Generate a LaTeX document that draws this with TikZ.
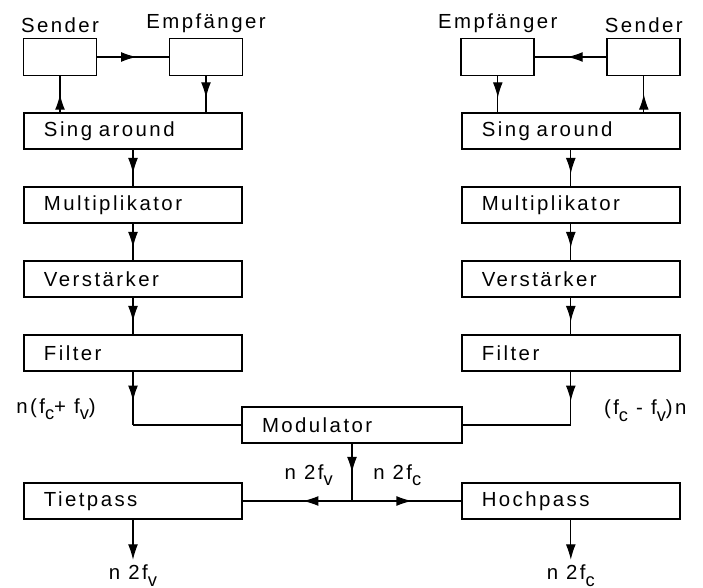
\documentclass[tikz,border=0pt]{standalone}
\usepackage{fontspec}
\setmainfont{Liberation Sans}[LetterSpace=12]
\usetikzlibrary{positioning}
\usetikzlibrary{shapes,arrows.meta,decorations.markings}
\newcommand{\idx}[1]{\raisebox{-4.5pt}{\fontsize{13}{13}\selectfont #1}}
\tikzstyle{block} = [rectangle, draw, line width=1.2pt, on grid,
    minimum width=5.45cm, minimum height=0.9cm, text width=4.45cm,
    inner xsep=0.5cm, align=left]
\tikzstyle{small} = [rectangle, draw, line width=1.2pt, on grid,
    minimum width=1.825cm, minimum height=0.925cm]
\tikzstyle{line} = [draw, line width=0.8pt]
\tikzset{midarrow/.style={postaction={decorate}, decoration={markings,
    mark=at position #1 with {\arrow{Latex[length=11pt,width=7pt]}}}},
    midarrow/.default=0.55}

\begin{document}
\begin{tikzpicture}[node distance=1.85cm, font=\fontsize{14.5}{17}\selectfont]
    \useasboundingbox (0,0) rectangle (17.575,-14.7);
    % Place nodes, left chain
    \node [block] (singL) at (3.325,-3.275) {Sing around};
    \node [block, below=of singL] (multL) {Multiplikator};
    \node [block, below=of multL] (verstL) {Verstärker};
    \node [block, below=of verstL] (filterL) {Filter};
    \node [small, above left=1.85cm and 1.825cm of singL, label=above:Sender] (sendL) {};
    \node [small, above right=1.85cm and 1.825cm of singL, label=above:Empfänger] (empfL) {};
    % right chain
    \node [block] (singR) at (14.27,-3.275) {Sing around};
    \node [block, below=of singR] (multR) {Multiplikator};
    \node [block, below=of multR] (verstR) {Verstärker};
    \node [block, below=of verstR] (filterR) {Filter};
    \node [small, above left=1.85cm and 1.825cm of singR, label=above:Empfänger] (empfR) {};
    \node [small, above right=1.85cm and 1.825cm of singR, label=above:Sender] (sendR) {};
    % mixing and outputs
    \node [block, minimum width=5.5cm, text width=4.5cm] (mod) at (8.8,-10.625) {Modulator};
    \node [block, below=3.7cm of filterL] (tief) {Tietpass};
    \node [block, below=3.7cm of filterR] (hoch) {Hochpass};
    \coordinate (inL) at (filterL.south |- mod.west);
    \coordinate (inR) at (filterR.south |- mod.east);
    \coordinate (split) at (mod.south |- tief.east);
    \coordinate [below=1cm of tief.south] (outL);
    \coordinate [below=1cm of hoch.south] (outR);
    % arrows
    \path [line, midarrow] (sendL.east) -- (empfL.west);
    \path [line, midarrow=0.5] (singL.north -| sendL) -- (sendL.south);
    \path [line, midarrow=0.6] (empfL.south) -- (singL.north -| empfL);
    \path [line, midarrow] (sendR.west) -- (empfR.east);
    \path [line, midarrow=0.5] (singR.north -| sendR) -- (sendR.south);
    \path [line, midarrow=0.6] (empfR.south) -- (singR.north -| empfR);
    \path [line, midarrow=0.65] (singL) -- (multL);
    \path [line, midarrow=0.65] (multL) -- (verstL);
    \path [line, midarrow=0.65] (verstL) -- (filterL);
    \path [line, midarrow=0.65] (singR) -- (multR);
    \path [line, midarrow=0.65] (multR) -- (verstR);
    \path [line, midarrow=0.65] (verstR) -- (filterR);
    \path [line, midarrow] (filterL.south) -- node [left=0.8cm, pos=0.7] {n(f\idx{c}+ f\idx{v})} (inL);
    \path [line] (inL) -- (mod.west);
    \path [line, midarrow] (filterR.south) -- node [right=0.7cm, pos=0.73] {(f\idx{c} - f\idx{v})n} (inR);
    \path [line] (inR) -- (mod.east);
    \path [line, midarrow=0.5] (mod.south) -- node [left=0.35cm, pos=0.55] {n 2f\idx{v}} node [right=0.4cm, pos=0.55] {n 2f\idx{c}} (split);
    \path [line, midarrow=0.45] (split) -- (tief.east);
    \path [line, midarrow=0.55] (split) -- (hoch.west);
    \path [line, -{Latex[length=11pt,width=7pt]}] (tief.south) -- (outL) node [below] {n 2f\idx{v}};
    \path [line, -{Latex[length=11pt,width=7pt]}] (hoch.south) -- (outR) node [below] {n 2f\idx{c}};
\end{tikzpicture}
\end{document}
